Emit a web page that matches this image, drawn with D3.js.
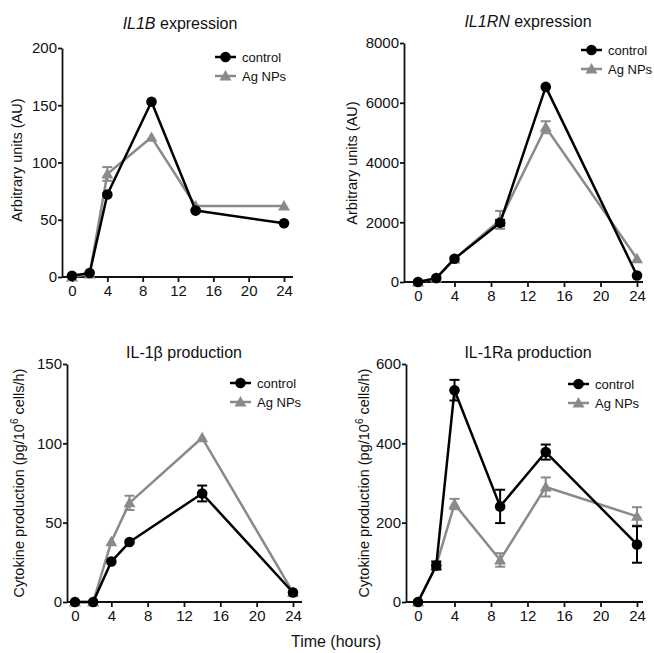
<!DOCTYPE html>
<html lang="en">
  <head>
    <meta charset="UTF-8" />
    <title>IL-1 expression and production</title>
    <script src="https://d3js.org/d3.v7.min.js"></script>
    <style>
      body {
        margin: 0;
        background: #fff;
      }
      svg text {
        font-family: "Liberation Sans", Arial, sans-serif;
        fill: #111;
      }
    </style>
  </head>
  <body>
    <div id="chart"></div>
    <script>
      // time points (hours)
      const hoursA = [0, 2, 4, 9, 14, 24];
      const hoursB = [0, 2, 4, 6, 14, 24];
      const xTicks = [0, 4, 8, 12, 16, 20, 24];

      // IL1B expression (AU)
      const il1bControl = [1, 3.5, 72, 153, 58, 47];
      const il1bAg = [0, 2.5, 90, 122, 62, 62];
      const il1bControlErr = [0, 0, 0, 0, 0, 0];
      const il1bAgErr = [0, 0, 6, 0, 0, 0];

      // IL1RN expression (AU)
      const il1rnControl = [0, 130, 780, 1980, 6530, 220];
      const il1rnAg = [0, 130, 770, 2080, 5180, 780];
      const il1rnControlErr = [0, 0, 0, 100, 0, 0];
      const il1rnAgErr = [0, 0, 0, 300, 200, 0];

      // IL-1beta production (pg/10^6 cells/h)
      const il1betaControl = [0, 0, 25.5, 37.8, 68.4, 6];
      const il1betaAg = [0, 0, 38, 62.5, 103.5, 6];
      const il1betaControlErr = [0, 0, 0, 0, 5, 0];
      const il1betaAgErr = [0, 0, 0, 4.5, 0, 0];

      // IL-1Ra production (pg/10^6 cells/h)
      const il1raControl = [0, 92, 534, 241, 378, 145];
      const il1raAg = [0, 92, 247, 106, 290, 216];
      const il1raControlErr = [0, 10, 26, 42, 19, 46];
      const il1raAgErr = [0, 10, 13, 17, 24, 23];

      const seriesNames = ["control", "Ag NPs"];
      const seriesColors = ["#000000", "#8a8a8a"];

      const panels = [
        {
          title: [{t: "IL1B", italic: true}, {t: " expression"}],
          titleX: 180, titleY: 29,
          yLabel: "au", yLabelX: 22, yLabelY: 160,
          hours: hoursA, yMax: 200, yTicks: [0, 50, 100, 150, 200],
          series: [[il1bControl, il1bControlErr], [il1bAg, il1bAgErr]],
          axisX: 62, axisEnd: 293, x0: 72, x24: 284, y0: 277, yTop: 48,
          legX: 215, legY: 57,
        },
        {
          title: [{t: "IL1RN", italic: true}, {t: " expression"}],
          titleX: 528, titleY: 27,
          yLabel: "au", yLabelX: 357, yLabelY: 163,
          hours: hoursA, yMax: 8000, yTicks: [0, 2000, 4000, 6000, 8000],
          series: [[il1rnControl, il1rnControlErr], [il1rnAg, il1rnAgErr]],
          axisX: 404, axisEnd: 643, x0: 418, x24: 637, y0: 282, yTop: 43,
          legX: 581, legY: 50,
        },
        {
          title: [{t: "IL-1β production"}],
          titleX: 184, titleY: 358,
          yLabel: "cyto", yLabelX: 24, yLabelY: 483,
          hours: hoursB, yMax: 150, yTicks: [0, 50, 100, 150],
          series: [[il1betaControl, il1betaControlErr], [il1betaAg, il1betaAgErr]],
          axisX: 67, axisEnd: 302, x0: 75, x24: 293, y0: 602, yTop: 364,
          legX: 230, legY: 383,
        },
        {
          title: [{t: "IL-1Ra production"}],
          titleX: 528, titleY: 358,
          yLabel: "cyto", yLabelX: 369, yLabelY: 483,
          hours: hoursA, yMax: 600, yTicks: [0, 200, 400, 600],
          series: [[il1raControl, il1raControlErr], [il1raAg, il1raAgErr]],
          axisX: 406, axisEnd: 643, x0: 418, x24: 637, y0: 602, yTop: 364,
          legX: 568, legY: 384,
        },
      ];

      const svg = d3
        .select("#chart")
        .append("svg")
        .attr("width", 654)
        .attr("height", 653);

      const triangle = d3.symbol().type(d3.symbolTriangle).size(62);

      function drawMarker(g, i, x, y) {
        if (i === 0) {
          g.append("circle")
            .attr("cx", x)
            .attr("cy", y)
            .attr("r", 5.3)
            .attr("fill", seriesColors[i]);
        } else {
          g.append("path")
            .attr("d", triangle)
            .attr("transform", `translate(${x},${y + 1})`)
            .attr("fill", seriesColors[i]);
        }
      }

      panels.forEach((p) => {
        const g = svg.append("g");

        const x = d3.scaleLinear().domain([0, 24]).range([p.x0, p.x24]);
        const y = d3.scaleLinear().domain([0, p.yMax]).range([p.y0, p.yTop]);

        // axes
        const xAxis = g
          .append("g")
          .attr("transform", `translate(0,${p.y0})`)
          .call(
            d3.axisBottom(x).tickValues(xTicks).tickSize(5).tickPadding(3).tickSizeOuter(0)
          );
        xAxis.select(".domain").attr("d", `M${p.axisX},0H${p.axisEnd}`);

        g.append("g")
          .attr("transform", `translate(${p.axisX},0)`)
          .call(
            d3
              .axisLeft(y)
              .tickValues(p.yTicks)
              .tickFormat(d3.format("d"))
              .tickSize(4)
              .tickPadding(1)
              .tickSizeOuter(0)
          );

        g.selectAll(".domain, .tick line")
          .attr("stroke", "#111")
          .attr("stroke-width", 1.8);
        g.selectAll(".tick text")
          .attr("font-size", 15)
          .attr("font-family", "'Liberation Sans', Arial, sans-serif")
          .attr("fill", "#111");

        // title
        const title = g
          .append("text")
          .attr("x", p.titleX)
          .attr("y", p.titleY)
          .attr("text-anchor", "middle")
          .attr("font-size", 16);
        p.title.forEach((part) => {
          title
            .append("tspan")
            .attr("font-style", part.italic ? "italic" : null)
            .text(part.t);
        });

        // y label
        const yl = g
          .append("text")
          .attr("transform", `translate(${p.yLabelX},${p.yLabelY}) rotate(-90)`)
          .attr("text-anchor", "middle")
          .attr("font-size", 14.5);
        if (p.yLabel === "au") {
          yl.text("Arbitrary units (AU)");
        } else {
          yl.append("tspan").text("Cytokine production (pg/10");
          yl.append("tspan").attr("font-size", 10).attr("dy", -6).text("6");
          yl.append("tspan").attr("dy", 6).text(" cells/h)");
        }

        // series: draw Ag NPs first, control on top
        [1, 0].forEach((i) => {
          const [vals, errs] = p.series[i];
          const pts = p.hours.map((h, k) => ({h, v: vals[k], e: errs[k]}));
          const color = seriesColors[i];

          g.append("path")
            .datum(pts)
            .attr("fill", "none")
            .attr("stroke", color)
            .attr("stroke-width", 2.5)
            .attr("stroke-linejoin", "round")
            .attr("d", d3.line().x((d) => x(d.h)).y((d) => y(d.v)));

          pts
            .filter((d) => d.e > 0)
            .forEach((d) => {
              const cx = x(d.h);
              const top = y(d.v + d.e);
              const bot = y(d.v - d.e);
              g.append("line")
                .attr("x1", cx).attr("x2", cx)
                .attr("y1", top).attr("y2", bot)
                .attr("stroke", color).attr("stroke-width", 2);
              [top, bot].forEach((yy) => {
                g.append("line")
                  .attr("x1", cx - 5).attr("x2", cx + 5)
                  .attr("y1", yy).attr("y2", yy)
                  .attr("stroke", color).attr("stroke-width", 2);
              });
            });

          pts.forEach((d) => drawMarker(g, i, x(d.h), y(d.v)));
        });

        // legend
        seriesNames.forEach((name, i) => {
          const ly = p.legY + i * 19;
          g.append("line")
            .attr("x1", p.legX).attr("x2", p.legX + 21)
            .attr("y1", ly).attr("y2", ly)
            .attr("stroke", seriesColors[i])
            .attr("stroke-width", 2.5);
          drawMarker(g, i, p.legX + 10.5, ly);
          g.append("text")
            .attr("x", p.legX + 27)
            .attr("y", ly + 4.5)
            .attr("font-size", 13)
            .text(name);
        });
      });

      svg
        .append("text")
        .attr("x", 336)
        .attr("y", 647)
        .attr("text-anchor", "middle")
        .attr("font-size", 16)
        .text("Time (hours)");
    </script>
  </body>
</html>
